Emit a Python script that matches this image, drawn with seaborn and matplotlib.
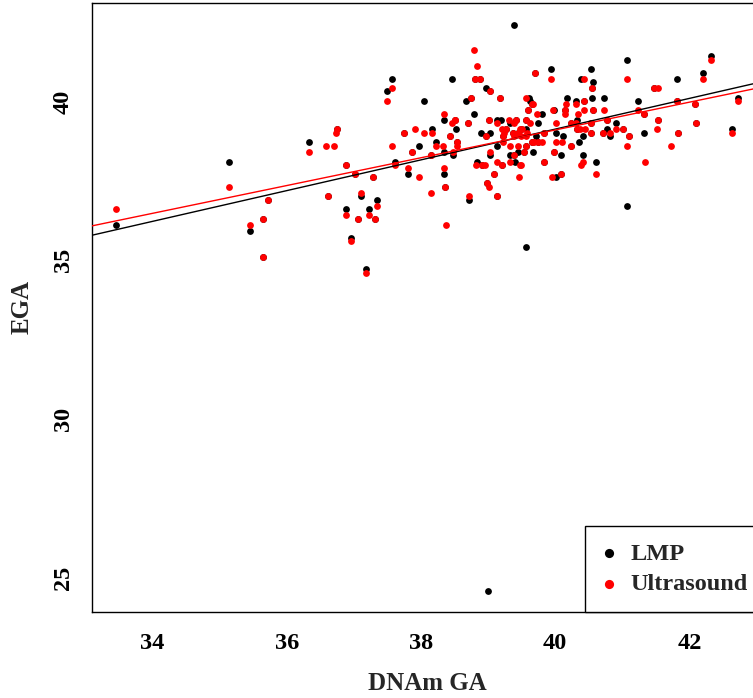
import matplotlib
matplotlib.use("Agg")
import matplotlib.pyplot as plt
import seaborn as sns
import numpy as np
import pandas as pd

# ---------------- data ----------------
# LMP (black) points: visible ones plus ones hidden under red points
lmp_x = [33.46, 35.14, 35.45, 36.33, 36.75, 36.88, 37.11, 36.95, 37.18, 37.22,
         37.35, 37.57, 37.50, 37.61, 37.97, 37.80,
         39.38, 38.47, 39.94, 40.53, 40.39, 40.57, 41.07, 41.81, 42.20, 42.32,
         38.97, 38.67, 38.05, 39.61, 39.63, 40.17, 40.31, 40.55, 40.73, 41.24,
         42.72, 39.98, 39.80, 38.79, 38.34, 38.52, 39.13, 39.19, 39.32, 39.75,
         40.32, 40.91, 38.16, 38.22, 38.34, 38.34, 38.48, 38.90, 39.03, 38.84,
         39.03, 38.72, 39.13, 39.32, 39.40, 39.45, 39.49, 39.57, 39.57, 39.67,
         39.72, 40.01, 40.08, 40.11, 40.36, 40.42, 40.41, 40.61, 40.01, 40.78,
         40.82, 41.32, 41.07, 39.57, 42.64, 39.00,
         # hidden under red
         35.65, 35.65, 35.72, 36.61, 36.89, 37.01, 37.06,
         37.32, 37.28, 37.75, 37.86,
         38.81, 38.88, 39.70, 40.55, 41.47, 39.03, 38.75, 39.18, 39.59, 39.65,
         40.43, 40.57, 41.33, 41.81, 42.09, 40.14, 38.50, 38.70, 39.02, 39.41,
         39.56, 40.23, 40.53, 40.77, 41.54, 42.10, 38.15, 38.36, 38.43, 38.54,
         38.97, 38.91, 39.09, 38.99, 39.13, 39.21, 39.23, 39.27, 39.37, 39.44,
         39.39, 39.53, 39.65, 39.74, 39.84, 39.99, 40.24, 40.33, 40.54, 40.08,
         39.83, 40.71, 41.01, 41.83, 41.10]
lmp_y = [36.11, 38.11, 35.91, 38.72, 39.12, 36.62, 37.02, 35.71, 34.73, 36.62,
         36.91, 40.71, 40.32, 38.11, 38.61, 37.71,
         42.42, 40.71, 41.02, 41.02, 40.71, 40.62, 41.31, 40.71, 40.91, 41.42,
         40.41, 40.01, 40.01, 40.12, 40.01, 40.12, 40.01, 40.12, 40.12, 40.01,
         40.12, 39.72, 39.61, 39.61, 39.41, 39.12, 39.41, 39.41, 39.32, 39.32,
         39.41, 39.32, 39.12, 38.72, 38.41, 37.71, 38.31, 39.01, 39.01, 38.11,
         38.31, 36.91, 38.61, 38.31, 38.11, 38.41, 39.12, 39.12, 38.61, 38.41,
         38.91, 39.01, 38.31, 38.91, 38.72, 38.91, 38.31, 38.11, 37.62, 39.12,
         38.91, 39.01, 36.71, 35.41, 39.12, 24.60,
         36.31, 35.11, 36.91, 37.02, 38.01, 37.71, 36.31,
         36.31, 37.61, 39.01, 38.41,
         40.71, 40.71, 40.91, 40.41, 40.41, 40.32, 40.12, 40.12, 39.72, 39.92,
         40.01, 39.72, 39.61, 40.01, 39.92, 39.72, 39.41, 39.32, 39.41, 39.41,
         39.41, 39.32, 39.32, 39.41, 39.41, 39.32, 38.31, 37.31, 38.91, 38.72,
         38.91, 38.01, 37.71, 37.42, 37.02, 38.01, 38.91, 39.12, 39.01, 39.01,
         38.31, 38.41, 38.72, 38.72, 39.01, 38.41, 38.61, 39.12, 39.01, 37.71,
         38.11, 39.01, 39.12, 39.01, 38.91]

# Ultrasound (red) points
us_x = [33.46, 35.14, 35.45, 35.65, 35.65, 35.72, 36.33, 36.58, 36.70, 36.61,
        36.75, 36.74, 36.89, 37.01, 36.88, 37.06, 37.11, 36.95, 37.18, 37.22,
        37.35, 37.32, 37.28, 37.57, 37.50, 37.57, 37.61, 37.75, 37.91, 37.86,
        37.80, 37.97,
        38.79, 38.84, 38.81, 38.88, 39.94, 39.70, 40.43, 40.55, 41.07, 41.47,
        41.54, 42.20, 42.32, 39.03, 38.75, 38.05, 39.18, 39.57, 39.59, 39.65,
        39.67, 40.16, 40.31, 40.43, 40.43, 40.57, 40.73, 41.24, 41.33, 41.81,
        42.09, 42.72, 39.97, 40.14, 40.15, 39.73, 40.34, 38.34, 38.47, 38.50,
        38.51, 38.70, 39.02, 39.13, 39.31, 39.41, 39.38, 39.56, 39.63, 40.01,
        40.23, 40.31, 40.53, 40.77, 41.54, 42.10, 38.16, 38.15, 38.15, 38.22,
        38.33, 38.34, 38.36, 38.37, 38.43, 38.48, 38.54, 38.54, 38.97, 38.82,
        38.91, 38.96, 39.03, 39.09, 38.99, 39.01, 38.72, 39.13, 39.13, 39.21,
        39.21, 39.23, 39.24, 39.27, 39.23, 39.32, 39.32, 39.37, 39.39, 39.44,
        39.47, 39.49, 39.50, 39.45, 39.47, 39.49, 39.39, 39.46, 39.53, 39.58,
        39.57, 39.56, 39.65, 39.69, 39.74, 39.80, 39.84, 39.99, 40.01, 40.10,
        40.24, 40.33, 40.37, 40.45, 40.54, 40.39, 40.42, 40.61, 39.95, 40.08,
        39.83, 40.71, 40.82, 40.91, 41.01, 41.10, 41.07, 41.34, 41.52, 41.83,
        41.73, 42.64]
us_y = [36.62, 37.31, 36.11, 36.31, 35.11, 36.91, 38.41, 38.61, 38.61, 37.02,
        39.12, 39.00, 38.01, 37.71, 36.42, 36.31, 37.11, 35.62, 34.61, 36.42,
        36.71, 36.31, 37.61, 40.41, 40.01, 38.61, 38.01, 39.01, 39.12, 38.41,
        37.91, 37.61,
        41.62, 41.11, 40.71, 40.71, 40.71, 40.91, 40.71, 40.41, 40.71, 40.41,
        40.41, 40.71, 41.31, 40.32, 40.12, 39.01, 40.12, 40.12, 39.72, 39.92,
        39.92, 39.92, 39.92, 40.01, 39.72, 39.72, 39.72, 39.72, 39.61, 40.01,
        39.92, 40.01, 39.72, 39.72, 39.61, 39.61, 39.61, 39.61, 39.32, 39.41,
        39.41, 39.32, 39.41, 39.32, 39.41, 39.41, 39.32, 39.41, 39.32, 39.32,
        39.32, 39.32, 39.32, 39.41, 39.41, 39.32, 39.01, 38.31, 37.11, 38.61,
        38.61, 37.91, 37.31, 36.11, 38.91, 38.41, 38.72, 38.61, 38.91, 38.01,
        38.01, 38.01, 38.41, 37.71, 37.42, 37.31, 37.02, 37.02, 38.11, 38.01,
        39.12, 38.91, 39.01, 39.12, 38.72, 38.61, 38.11, 39.01, 38.91, 39.01,
        39.12, 38.91, 39.12, 38.61, 38.01, 38.01, 38.31, 37.62, 38.41, 39.01,
        38.91, 38.61, 38.72, 38.72, 38.72, 38.72, 39.01, 38.41, 38.72, 38.72,
        38.61, 39.12, 39.12, 39.12, 39.01, 38.01, 38.11, 37.71, 37.62, 37.71,
        38.11, 39.01, 39.01, 39.12, 39.12, 38.91, 38.61, 38.11, 39.12, 39.01,
        38.61, 39.01]

series_names = ["LMP", "Ultrasound"]
series_colors = ["black", "red"]
x_ticks = [34, 36, 38, 40, 42]
y_ticks = [25, 30, 35, 40]

# ---------------- plotting ----------------
sns.set_style("white")
plt.rcParams["font.family"] = ["Liberation Serif", "DejaVu Serif"]
plt.rcParams["font.weight"] = "bold"

fig = plt.figure(figsize=(7.53, 6.98), dpi=100)
ax = fig.add_axes([91.5 / 753, 1 - 612 / 698, 671 / 753, 609 / 698])
ax.set_xlim(33.09, 43.09)
ax.set_ylim(23.93, 43.10)

df_lmp = pd.DataFrame({"x": lmp_x, "y": lmp_y})
df_us = pd.DataFrame({"x": us_x, "y": us_y})

sns.scatterplot(data=df_lmp, x="x", y="y", color=series_colors[0], s=24,
                linewidth=0, ax=ax, label=series_names[0], zorder=3)
sns.scatterplot(data=df_us, x="x", y="y", color=series_colors[1], s=24,
                linewidth=0, ax=ax, label=series_names[1], zorder=4)
sns.regplot(data=df_lmp, x="x", y="y", scatter=False, ci=None, truncate=False,
            color=series_colors[0], line_kws={"lw": 1.0, "zorder": 5}, ax=ax)
sns.regplot(data=df_us, x="x", y="y", scatter=False, ci=None, truncate=False,
            color=series_colors[1], line_kws={"lw": 1.0, "zorder": 5}, ax=ax)
ax.set_xlim(33.09, 43.09)
ax.set_ylim(23.93, 43.10)

ax.set_xticks(x_ticks)
ax.set_yticks(y_ticks)
ax.tick_params(axis="both", direction="out", length=7.8, width=0.9,
               colors="black", labelsize=17.5)
ax.tick_params(axis="x", pad=7)
ax.tick_params(axis="y", pad=5, labelrotation=90)
for lab in ax.get_yticklabels():
    lab.set_va("center")

ax.set_xlabel("DNAm GA", fontsize=18, fontweight="bold", labelpad=13)
ax.set_ylabel("EGA", fontsize=18, fontweight="bold", labelpad=14)

for sp in ax.spines.values():
    sp.set_visible(True)
    sp.set_color("black")
    sp.set_linewidth(1.0)

leg = ax.legend(loc="lower left", bbox_to_anchor=(0.7355, 0.0),
                borderaxespad=0, fontsize=17.5, frameon=True, fancybox=False,
                edgecolor="black", framealpha=1, borderpad=0.68,
                handlelength=0.6, handletextpad=0.6, labelspacing=0.36,
                markerscale=1.35)
leg.get_frame().set_linewidth(1.0)
for t in leg.get_texts():
    t.set_fontweight("bold")

fig.savefig("out.png", dpi=100)
